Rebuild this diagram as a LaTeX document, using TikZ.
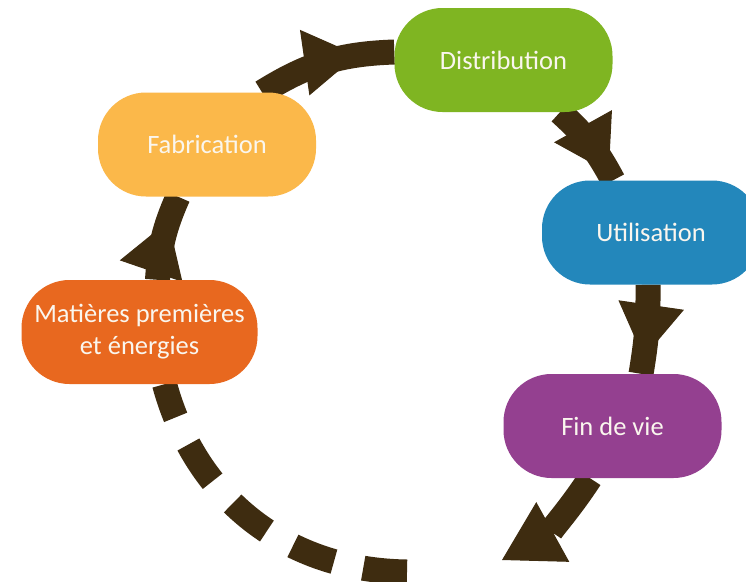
\documentclass[tikz,border=0pt]{standalone}
\usepackage{fontspec}
\setmainfont{Carlito}
\usepackage{xcolor}
\usetikzlibrary{arrows.meta,decorations.markings,backgrounds}

\definecolor{brun}{HTML}{3E2C10}
\definecolor{vert}{HTML}{7FB522}
\definecolor{bleu}{HTML}{2387BB}
\definecolor{violet}{HTML}{944090}
\definecolor{jaune}{HTML}{FBB84A}
\definecolor{orangemat}{HTML}{E8681F}
\definecolor{blanc}{HTML}{FAF6EE}

\tikzset{
	etape/.style={rounded corners=48pt, minimum width=218pt, minimum height=104pt, inner sep=0pt, text=blanc, align=center, font=\fontsize{26.5}{32}\selectfont},
	fleche/.style={draw=brun, line width=25pt},
	pointe/.style={postaction={decorate, decoration={markings, mark=at position #1 with {\arrow[brun]{Triangle[length=53pt,width=66pt,line width=1pt]}}}}}
}

\begin{document}
\begin{tikzpicture}[x=1pt,y=-1pt]
					\useasboundingbox (0,0) rectangle (746,581);
					\node[etape, fill=jaune](fab) at (207,144.5){Fabrication};
					\node[etape, fill=vert](dist) at (503.5,60){Distribution};
					\node[etape, fill=bleu](util) at (651,232.5){Utilisation};
					\node[etape, fill=violet](fin) at (612.5,426){Fin de vie};
					\node[etape, fill=orangemat, minimum width=236pt](mat) at (139.5,332){Matières premières\\et énergies};
					\coordinate (bout) at (502,560);
					\coordinate (trait) at (407,572);
					
					\begin{scope}[on background layer]
						\fill[white] (0,0) rectangle (746,581);
						\draw[fleche, pointe=60pt] ([xshift=18pt]mat.north) to[bend left=10] ([xshift=-29pt]fab.south);
						\draw[fleche, pointe=103pt] ([xshift=55pt]fab.north) to[bend left=15] ([yshift=8pt]dist.west);
						\draw[fleche, pointe=78pt] ([xshift=56.5pt]dist.south) to[bend left=10] ([xshift=-38pt]util.north);
						\draw[fleche, pointe=73pt] ([xshift=-3pt]util.south) to[bend left=5] ([xshift=28.5pt]fin.north);
						\draw[fleche, -{Triangle[length=58pt,width=68pt,line width=1pt]}] ([xshift=-22.5pt]fin.south) to[bend left=14] (bout);
						\draw[fleche, dash pattern=on 44pt off 30pt] (trait) to[bend left=37] ([xshift=25pt]mat.south);
					\end{scope}
				\end{tikzpicture}
\end{document}
